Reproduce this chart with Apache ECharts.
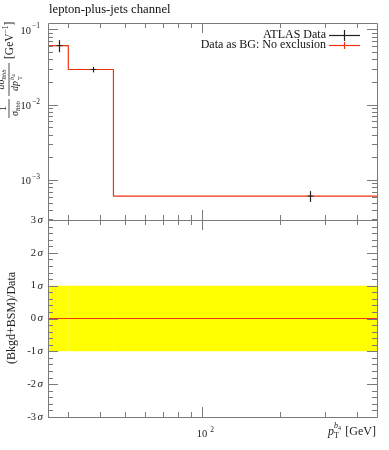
<!DOCTYPE html>
<html><head><meta charset="utf-8">
<script src="https://cdn.jsdelivr.net/npm/echarts@6/dist/echarts.min.js"></script>
<style>html,body{margin:0;padding:0;background:#fff}#c{width:389px;height:450px}</style>
</head><body><div id="c"></div>
<script>
// ---- data ----
const binEdges = [25, 30, 45, 480];
const binCenters = [27.5, 37.5, 262.5];
const dataValues = [0.061, 0.0294, 0.00061];
const dataErrors = [0.0112, 0.0025, 0.0001];
const predValues = [0.061, 0.0294, 0.00061];
const ratioValues = [0, 0, 0];
const bandLow = [-1, -1, -1];
const bandHigh = [1, 1, 1];
const xRange = [25, 480];
const yRange = [0.000293, 0.122];
const rRange = [-3, 3];
const xMajorTicks = [100];
const xMinorTicks = [30, 40, 50, 60, 70, 80, 90, 200, 300, 400];
const xTickLabels = [[100, '10', '2']];
const yMajorTicks = [0.001, 0.01, 0.1];
const yMinorTicks = [0.0003,0.0004,0.0005,0.0006,0.0007,0.0008,0.0009,
  0.002,0.003,0.004,0.005,0.006,0.007,0.008,0.009,
  0.02,0.03,0.04,0.05,0.06,0.07,0.08,0.09];
const yTickLabels = [[0.1, '10', '\u22121'], [0.01, '10', '\u22122'], [0.001, '10', '\u22123']];
const rMajorTicks = [-3, -2, -1, 0, 1, 2, 3];
const rMinorTicks = [-2.8,-2.6,-2.4,-2.2,-1.8,-1.6,-1.4,-1.2,-0.8,-0.6,-0.4,-0.2,
  0.2,0.4,0.6,0.8,1.2,1.4,1.6,1.8,2.2,2.4,2.6,2.8];
const rTickLabels = [[3,'3'],[2,'2'],[1,'1'],[0,'0'],[-1,'-1'],[-2,'-2'],[-3,'-3']];
const legendNames = ['ATLAS Data', 'Data as BG: No exclusion'];
const titleText = 'lepton-plus-jets channel';

// ---- style ----
const FONT = "'Liberation Serif', 'DejaVu Serif', serif";
const AXIS_C = '#7a7a7a';
const TEXT_C = '#222';
const RED = '#ee3311';
const DATA_C = '#222';

function tickSeries(g, dim, ticks, len, base) {
  return {
    type: 'custom', xAxisIndex: g, yAxisIndex: g, silent: true, z: 6,
    data: ticks.map(v => dim === 'x' ? [v, base] : [base, v]),
    renderItem(params, api) {
      const cs = params.coordSys;
      const p = api.coord([api.value(0), api.value(1)]);
      const st = {stroke: AXIS_C, lineWidth: 1};
      if (dim === 'x') {
        const x = Math.round(p[0]) + 0.5;
        const yb = cs.y + cs.height, yt = cs.y;
        return {type: 'group', children: [
          {type: 'line', shape: {x1: x, y1: yb, x2: x, y2: yb - len}, style: st},
          {type: 'line', shape: {x1: x, y1: yt, x2: x, y2: yt + len}, style: st}]};
      } else {
        const y = Math.round(p[1]) + 0.5;
        const xl = cs.x, xr = cs.x + cs.width;
        return {type: 'group', children: [
          {type: 'line', shape: {x1: xl, y1: y, x2: xl + len, y2: y}, style: st},
          {type: 'line', shape: {x1: xr, y1: y, x2: xr - len, y2: y}, style: st}]};
      }
    }
  };
}
function frameSeries(g, base) {
  return {
    type: 'custom', xAxisIndex: g, yAxisIndex: g, silent: true, z: 7,
    data: [base],
    renderItem(params, api) {
      const cs = params.coordSys;
      return {type: 'rect', shape: {x: Math.round(cs.x) + 0.5, y: Math.round(cs.y) + 0.5,
        width: Math.round(cs.width), height: Math.round(cs.height)},
        style: {fill: 'none', stroke: AXIS_C, lineWidth: 1}};
    }
  };
}

const chart = echarts.init(document.getElementById('c'), null, {renderer: 'canvas'});

const grids = [
  {left: 48, top: 23, width: 329, height: 197, show: false},
  {left: 48, top: 220, width: 329, height: 197, show: false}
];
const hiddenAxis = {axisLine: {show: false}, axisTick: {show: false}, axisLabel: {show: false}, splitLine: {show: false}};

const option = {
  animation: false,
  backgroundColor: '#fff',
  grid: grids,
  xAxis: [
    Object.assign({type: 'log', logBase: 10, min: xRange[0], max: xRange[1], gridIndex: 0}, hiddenAxis),
    Object.assign({type: 'log', logBase: 10, min: xRange[0], max: xRange[1], gridIndex: 1}, hiddenAxis)
  ],
  yAxis: [
    Object.assign({type: 'log', logBase: 10, min: yRange[0], max: yRange[1], gridIndex: 0}, hiddenAxis),
    Object.assign({type: 'value', min: rRange[0], max: rRange[1], gridIndex: 1}, hiddenAxis)
  ],
  series: [
    // yellow band
    {
      type: 'custom', xAxisIndex: 1, yAxisIndex: 1, silent: true, z: 1,
      data: bandLow.map((l, i) => [binEdges[i], binEdges[i + 1], l, bandHigh[i]]),
      renderItem(params, api) {
        const a = api.coord([api.value(0), api.value(3)]);
        const b = api.coord([api.value(1), api.value(2)]);
        return {type: 'rect', shape: {x: a[0], y: a[1], width: b[0] - a[0], height: b[1] - a[1]},
          style: {fill: '#ffff00'}};
      }
    },
    // ratio line
    {
      type: 'line', xAxisIndex: 1, yAxisIndex: 1, step: 'end', symbol: 'none', z: 3,
      data: binEdges.map((e, i) => [e, ratioValues[Math.min(i, ratioValues.length - 1)]]),
      lineStyle: {color: RED, width: 1.2}
    },
    // prediction histogram
    {
      type: 'line', xAxisIndex: 0, yAxisIndex: 0, step: 'end', symbol: 'none', z: 3,
      data: binEdges.map((e, i) => [e, predValues[Math.min(i, predValues.length - 1)]]),
      lineStyle: {color: RED, width: 1.2}
    },
    // data error bars
    {
      type: 'custom', xAxisIndex: 0, yAxisIndex: 0, silent: true, z: 4,
      data: binCenters.map((c, i) => [c, dataValues[i], dataErrors[i]]),
      renderItem(params, api) {
        const c = api.value(0), v = api.value(1), e = api.value(2);
        const t = api.coord([c, v + e]), b = api.coord([c, v - e]), m = api.coord([c, v]);
        const x = Math.round(m[0]) + 0.5;
        return {type: 'group', children: [
          {type: 'line', shape: {x1: x, y1: t[1], x2: x, y2: b[1]}, style: {stroke: DATA_C, lineWidth: 1.2}},
          {type: 'line', shape: {x1: x - 3, y1: m[1], x2: x + 3, y2: m[1]}, style: {stroke: DATA_C, lineWidth: 1}}]};
      }
    },
    // ticks
    tickSeries(0, 'x', xMajorTicks, 10, yRange[0]),
    tickSeries(0, 'x', xMinorTicks, 5, yRange[0]),
    tickSeries(1, 'x', xMajorTicks, 10, 0),
    tickSeries(1, 'x', xMinorTicks, 5, 0),
    tickSeries(0, 'y', yMajorTicks, 10, xRange[0]),
    tickSeries(0, 'y', yMinorTicks, 5, xRange[0]),
    tickSeries(1, 'y', rMajorTicks, 10, xRange[0]),
    tickSeries(1, 'y', rMinorTicks, 5, xRange[0]),
    frameSeries(0, [xRange[0], yRange[0]]),
    frameSeries(1, [xRange[0], 0]),
    // y tick labels (top)
    {
      type: 'custom', xAxisIndex: 0, yAxisIndex: 0, silent: true, z: 8,
      data: yTickLabels.map(d => [xRange[0], d[0]]),
      renderItem(params, api) {
        const cs = params.coordSys;
        const p = api.coord([api.value(0), api.value(1)]);
        const d = yTickLabels[params.dataIndex];
        return {type: 'text', x: cs.x - 8, y: p[1],
          style: {text: '{b|' + d[1] + '}{s|' + d[2] + '}', align: 'right', verticalAlign: 'middle',
            rich: {b: {fontFamily: FONT, fontSize: 10.5, fill: TEXT_C, lineHeight: 14, verticalAlign: 'bottom'},
                   s: {fontFamily: FONT, fontSize: 7.5, fill: TEXT_C, lineHeight: 14, verticalAlign: 'top', padding: [0,0,0,1]}}}};
      }
    },
    // ratio tick labels
    {
      type: 'custom', xAxisIndex: 1, yAxisIndex: 1, silent: true, z: 8,
      data: rTickLabels.map(d => [xRange[0], d[0]]),
      renderItem(params, api) {
        const cs = params.coordSys;
        const p = api.coord([api.value(0), api.value(1)]);
        const d = rTickLabels[params.dataIndex];
        return {type: 'text', x: cs.x - 5, y: p[1],
          style: {text: '{n|' + d[1] + '}{g|\u03c3}', align: 'right', verticalAlign: 'middle',
            rich: {n: {fontFamily: FONT, fontSize: 10.5, fill: TEXT_C},
                   g: {fontFamily: FONT, fontSize: 11, fontStyle: 'italic', fill: TEXT_C, padding: [0,0,0,1.5]}}}};
      }
    },
    // x tick labels
    {
      type: 'custom', xAxisIndex: 1, yAxisIndex: 1, silent: true, z: 8,
      data: xTickLabels.map(d => [d[0], rRange[0]]),
      renderItem(params, api) {
        const p = api.coord([api.value(0), api.value(1)]);
        const d = xTickLabels[params.dataIndex];
        return {type: 'text', x: p[0] + 3, y: p[1] + 9,
          style: {text: '{b|' + d[1] + '}{s|' + d[2] + '}', align: 'center', verticalAlign: 'top',
            rich: {b: {fontFamily: FONT, fontSize: 10.5, fill: TEXT_C, lineHeight: 14, verticalAlign: 'bottom'},
                   s: {fontFamily: FONT, fontSize: 7.5, fill: TEXT_C, lineHeight: 14, verticalAlign: 'top', padding: [0,0,0,3]}}}};
      }
    }
  ],
  graphic: [
    {type: 'text', left: 49, top: 3, style: {text: titleText, font: '12.7px ' + FONT, fill: '#111'}},
    // legend
    {type: 'text', x: 326, y: 35, style: {text: legendNames[0], font: '12px ' + FONT, fill: '#111', align: 'right', verticalAlign: 'middle'}},
    {type: 'line', shape: {x1: 329, y1: 35.5, x2: 360, y2: 35.5}, style: {stroke: DATA_C, lineWidth: 1.2}},
    {type: 'line', shape: {x1: 344.5, y1: 30, x2: 344.5, y2: 41}, style: {stroke: DATA_C, lineWidth: 1.2}},
    {type: 'text', x: 326, y: 45, style: {text: legendNames[1], font: '12px ' + FONT, fill: '#111', align: 'right', verticalAlign: 'middle'}},
    {type: 'line', shape: {x1: 329, y1: 45.5, x2: 360, y2: 45.5}, style: {stroke: RED, lineWidth: 1.2}},
    {type: 'line', shape: {x1: 344.5, y1: 42, x2: 344.5, y2: 49}, style: {stroke: RED, lineWidth: 1.2}},
    // top y label (rotated)
    {type: 'group', x: 9, y: 118, rotation: Math.PI / 2, children: [
      {type: 'line', shape: {x1: 0, y1: 0, x2: 19, y2: 0}, style: {stroke: TEXT_C, lineWidth: 0.8}},
      {type: 'text', x: 9.5, y: -1, style: {text: '1', font: '10px ' + FONT, fill: TEXT_C, align: 'center', verticalAlign: 'bottom'}},
      {type: 'text', x: 9.5, y: 1, style: {text: '{g|\u03c3}{s|t\u0305tbb}', align: 'center', verticalAlign: 'top',
        rich: {g: {fontFamily: FONT, fontStyle: 'italic', fontSize: 10, fill: TEXT_C, lineHeight: 12, verticalAlign: 'top'},
               s: {fontFamily: FONT, fontStyle: 'italic', fontSize: 6.5, fill: TEXT_C, lineHeight: 12, verticalAlign: 'bottom'}}}},
      {type: 'line', shape: {x1: 22, y1: 0, x2: 55, y2: 0}, style: {stroke: TEXT_C, lineWidth: 0.8}},
      {type: 'text', x: 38.5, y: -1, style: {text: '{g|d\u03c3}{s|t\u0305tbb}', align: 'center', verticalAlign: 'bottom',
        rich: {g: {fontFamily: FONT, fontStyle: 'italic', fontSize: 10, fill: TEXT_C, lineHeight: 12, verticalAlign: 'top'},
               s: {fontFamily: FONT, fontStyle: 'italic', fontSize: 6.5, fill: TEXT_C, lineHeight: 12, verticalAlign: 'bottom'}}}},
      {type: 'text', x: 27, y: 1, style: {text: 'dp', font: 'italic 10px ' + FONT, fill: TEXT_C, align: 'left', verticalAlign: 'top'}},
      {type: 'text', x: 38, y: 0, style: {text: '{b|b}{f|4}', align: 'left', verticalAlign: 'top',
        rich: {b: {fontFamily: FONT, fontStyle: 'italic', fontSize: 6.5, fill: TEXT_C, lineHeight: 7, verticalAlign: 'top'},
               f: {fontFamily: FONT, fontSize: 5, fill: TEXT_C, lineHeight: 7, verticalAlign: 'bottom'}}}},
      {type: 'text', x: 38, y: 7.5, style: {text: 'T', font: '6.5px ' + FONT, fill: TEXT_C, align: 'left', verticalAlign: 'top'}},
      {type: 'text', x: 59, y: 0, style: {text: '{b|[GeV}{s|\u22121}{b|]}', align: 'left', verticalAlign: 'middle',
        rich: {b: {fontFamily: FONT, fontSize: 11.5, fill: TEXT_C, lineHeight: 14, verticalAlign: 'bottom'},
               s: {fontFamily: FONT, fontSize: 7.5, fill: TEXT_C, lineHeight: 14, verticalAlign: 'top'}}}}
    ]},
    // ratio y label
    {type: 'text', x: 12, y: 318, rotation: Math.PI / 2,
      style: {text: '(Bkgd+BSM)/Data', font: '12px ' + FONT, fill: TEXT_C, align: 'center', verticalAlign: 'middle'}},
    // x axis title
    {type: 'text', x: 328, y: 432, style: {text: 'p', font: 'italic 12px ' + FONT, fill: TEXT_C, align: 'left', verticalAlign: 'middle'}},
    {type: 'text', x: 334, y: 422, style: {text: '{b|b}{f|4}', align: 'left', verticalAlign: 'top',
      rich: {b: {fontFamily: FONT, fontStyle: 'italic', fontSize: 8, fill: TEXT_C, lineHeight: 9, verticalAlign: 'top'},
             f: {fontFamily: FONT, fontSize: 6, fill: TEXT_C, lineHeight: 9, verticalAlign: 'bottom'}}}},
    {type: 'text', x: 334, y: 432, style: {text: 'T', font: '8px ' + FONT, fill: TEXT_C, align: 'left', verticalAlign: 'top'}},
    {type: 'text', x: 376, y: 432, style: {text: '[GeV]', font: '12px ' + FONT, fill: TEXT_C, align: 'right', verticalAlign: 'middle'}}
  ]
};
chart.setOption(option);
</script></body></html>
